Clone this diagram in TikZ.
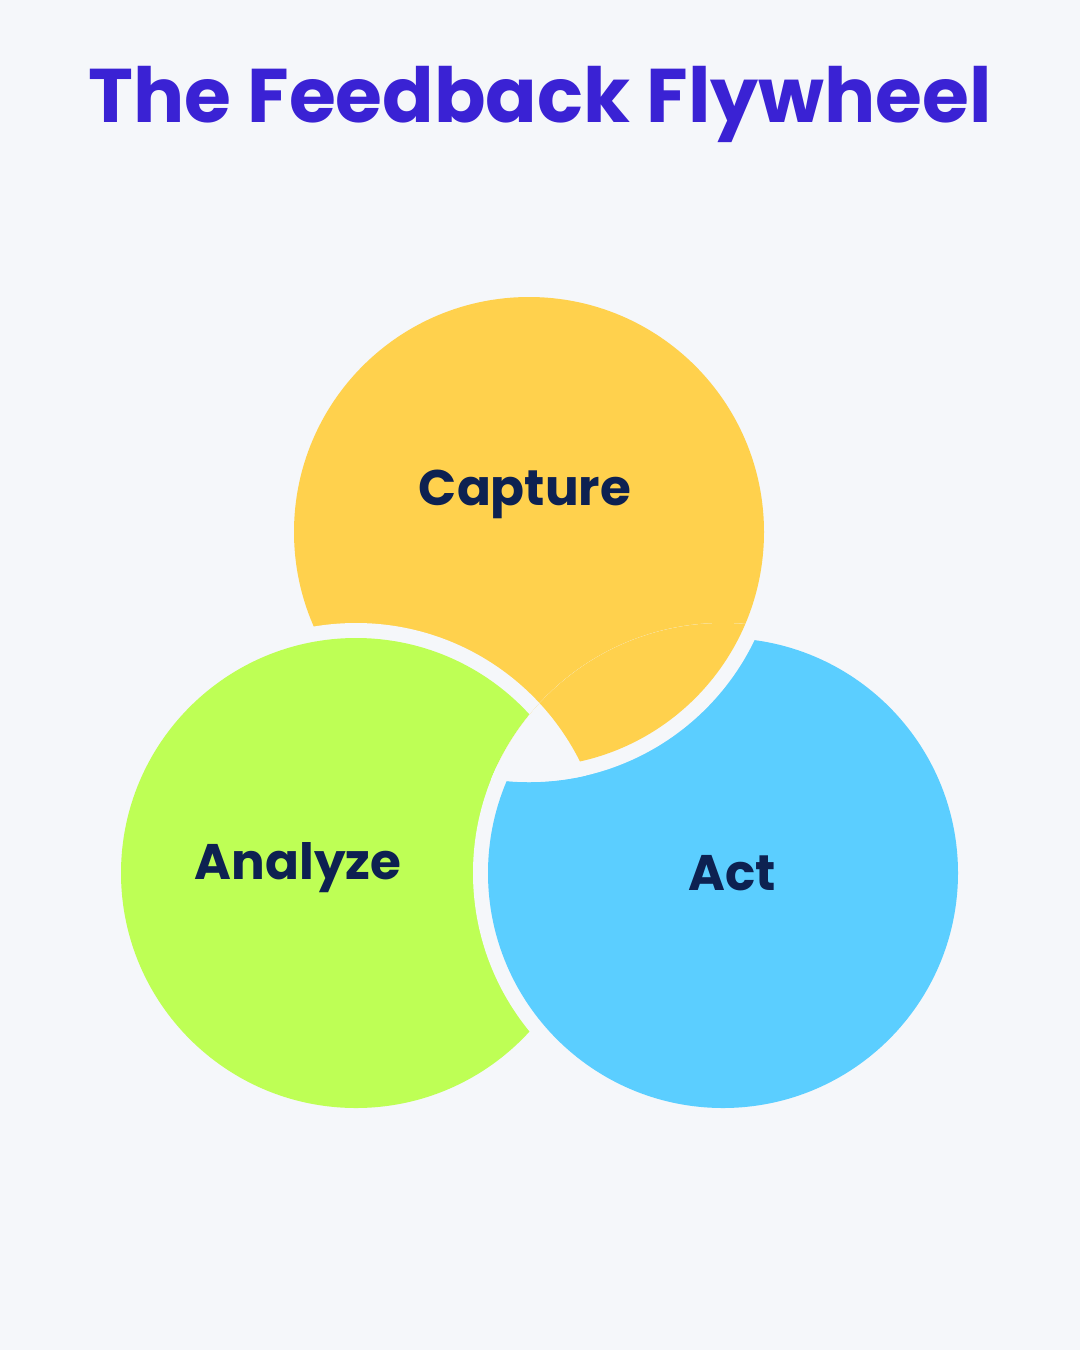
\documentclass[tikz,border=0pt]{standalone}
\usepackage{fontspec}
\setmainfont{Poppins}
\definecolor{bg}{HTML}{F5F7FA}
\definecolor{ttl}{HTML}{3A22D4}
\definecolor{lab}{HTML}{0D2151}
\definecolor{cy}{HTML}{FFD14D}
\definecolor{cg}{HTML}{BEFF55}
\definecolor{cb}{HTML}{5BCEFF}
\begin{document}
\begin{tikzpicture}[x=1pt,y=-1pt,
  lbl/.style={text=lab,font=\fontsize{50}{56}\selectfont\bfseries,anchor=center}]
\fill[bg] (0,0) rectangle (1080,1350);
\useasboundingbox (0,0) rectangle (1080,1350);
\node[text=ttl,font=\fontsize{76}{84}\selectfont\bfseries] (title) at (540,104) {The Feedback Flywheel};
% Capture
\fill[cy] (529,532) circle (235);
% Analyze over Capture
\fill[bg] (356,873) circle (250);
\fill[cg] (356,873) circle (235);
% Act over Analyze
\fill[bg] (723,873) circle (250);
\fill[cb] (723,873) circle (235);
% Capture over Act
\begin{scope}
\clip (723,873) circle (250);
\fill[bg] (529,532) circle (250);
\fill[cy] (529,532) circle (235);
\end{scope}
\begin{scope}
\clip (356,873) circle (250);
\clip (723,873) circle (250);
\fill[bg] (529,532) circle (250);
\end{scope}
\node[lbl] (cap) at (525,494) {Capture};
\node[lbl] (ana) at (298,868) {Analyze};
\node[lbl] (act) at (732,873) {Act};
\end{tikzpicture}
\end{document}
